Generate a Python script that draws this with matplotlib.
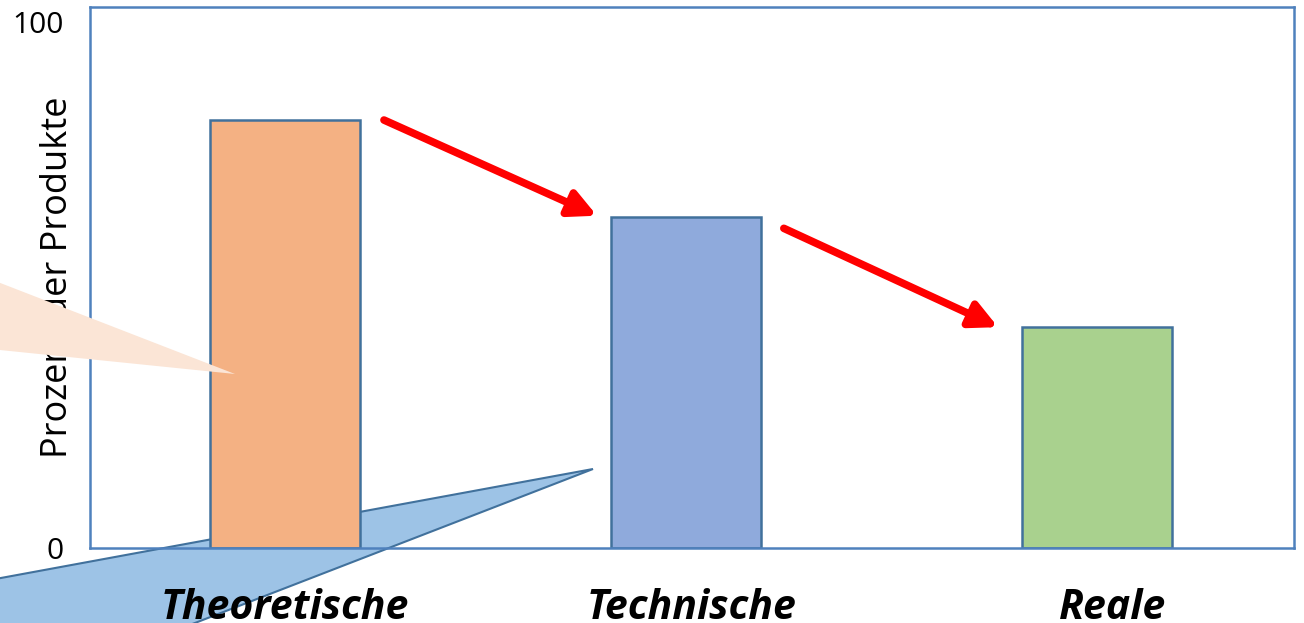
import matplotlib
matplotlib.use("Agg")
import matplotlib.pyplot as plt
from matplotlib.patches import Polygon
from matplotlib.transforms import ScaledTranslation

# data
categories = ["Theoretische", "Technische", "Reale"]
values = [81.4, 63.0, 42.0]
positions = [0, 1, 2.025]
colors = ["#F4B183", "#8FAADC", "#A9D18E"]
ylabel = "Prozent der Produkte"

W, H = 1304, 623
edge = "#41719C"

plt.rcParams["font.family"] = ["Open Sans", "DejaVu Sans"]

fig = plt.figure(figsize=(W / 100, H / 100), dpi=100)
ax = fig.add_axes([90 / W, 1 - 548 / H, 1204 / W, 541 / H])


def px(x, y):
    return (x / W, 1 - y / H)


# blue callout pointer, behind the bars
blue = Polygon([px(593, 469), px(-10, 580), px(-10, 640), px(151, 640)],
               closed=True, facecolor="#9DC3E6", edgecolor=edge, lw=1.5,
               transform=fig.transFigure, clip_on=False, zorder=0.5)
ax.add_patch(blue)

bw = 0.374
ax.bar(positions, values, width=bw, color=colors, edgecolor=edge,
       linewidth=1.8, zorder=1)

# red arrows between bar tops
starts = [(positions[0] + bw / 2 + 0.06, values[0]),
          (positions[1] + bw / 2 + 0.057, values[1] - 2.2)]
ends = [(positions[1] - bw / 2 - 0.035, values[1] + 0.2),
        (positions[2] - bw / 2 - 0.06, values[2])]
for s, e in zip(starts, ends):
    ax.annotate("", xy=e, xytext=s,
                arrowprops=dict(arrowstyle="-|>,head_length=1.6,head_width=0.8",
                                color="#FF0000", lw=5.5, shrinkA=0, shrinkB=0),
                zorder=3)

ax.set_xlim(-0.486, 2.516)
ax.set_ylim(0, 102.9)
ax.set_yticks([0, 100])
ax.set_yticklabels(["0", "100"], fontsize=21.5)
ax.set_xticks(positions)
ax.set_xticklabels(categories, fontsize=29.5, fontweight="bold", style="italic")
ax.tick_params(axis="both", length=0)
ax.tick_params(axis="y", pad=19)
ax.tick_params(axis="x", pad=29)
# text boxes in the original are not exactly centred on the bars
for lab, dx in zip(ax.get_xticklabels(), [0, 6, 15]):
    lab.set_transform(lab.get_transform() + ScaledTranslation(dx / 100, 0, fig.dpi_scale_trans))
for sp in ax.spines.values():
    sp.set_color("#4F81BD")
    sp.set_linewidth(1.8)

ax.set_ylabel(ylabel, fontsize=26)
ax.yaxis.set_label_coords(-0.012, 0.5)

# peach callout pointer, on top of the label
peach = Polygon([px(-10, 279), px(235, 374), px(-10, 349)], closed=True,
                facecolor="#FBE5D6", edgecolor="none",
                transform=fig.transFigure, zorder=2)
fig.add_artist(peach)

fig.savefig("out.png", dpi=100)
